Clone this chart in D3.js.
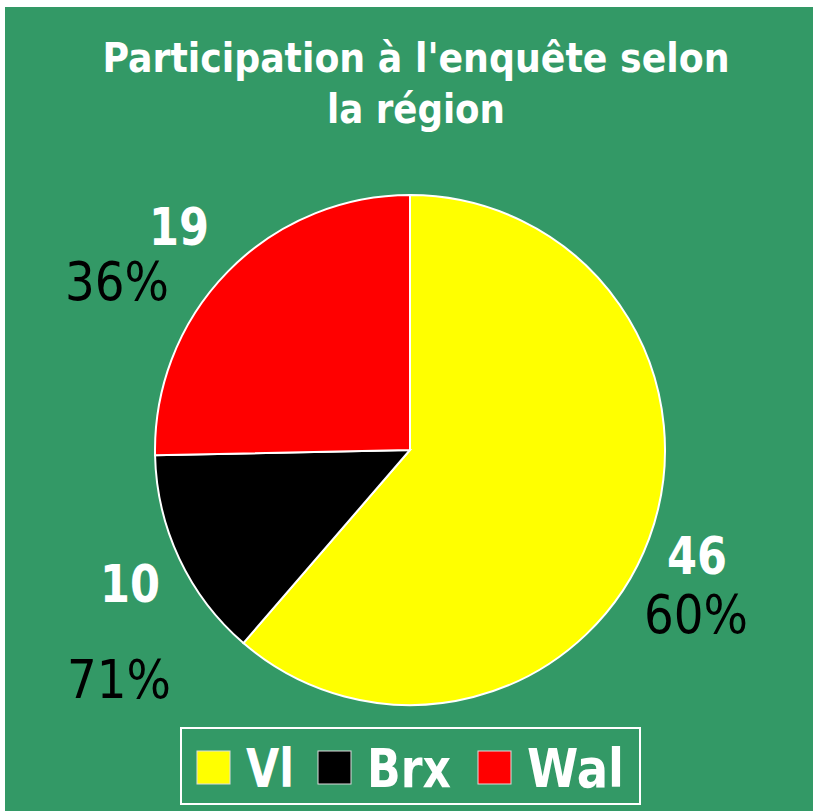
<!DOCTYPE html>
<html>
<head>
<meta charset="utf-8">
<script src="https://cdn.jsdelivr.net/npm/d3@7"></script>
<style>
body { margin: 0; background: #fff; }
</style>
</head>
<body>
<div id="chart"></div>
<script>
// Data
var regions = ["Vl", "Brx", "Wal"];
var counts = [46, 10, 19];
var rates = ["60%", "71%", "36%"];
var colors = ["#ffff00", "#000000", "#ff0000"];

var width = 813, height = 811;
var cx = 410, cy = 450, radius = 255;

// label anchors (layout only): [x of count, baseline of count, x of rate, baseline of rate]
var labelPos = [[697, 574, 696, 633], [130, 602, 119, 698], [179, 245, 117, 300]];

var svg = d3.select("#chart").append("svg")
	.attr("width", width)
	.attr("height", height);

svg.append("rect")
	.attr("x", 5).attr("y", 7)
	.attr("width", width - 5).attr("height", height - 7)
	.attr("fill", "#339966");

// Title
var titleLines = [["Participation à l'enquête selon", 72, 627], ["la région", 123, 178]];
svg.selectAll(".title")
	.data(titleLines)
	.enter()
	.append("text")
	.attr("class", "title")
	.attr("x", 416)
	.attr("y", function(d) { return d[1]; })
	.attr("text-anchor", "middle")
	.attr("font-family", "DejaVu Sans Condensed, DejaVu Sans")
	.attr("font-weight", "bold")
	.attr("font-size", 41)
	.attr("fill", "#fff")
	.attr("textLength", function(d) { return d[2]; })
	.attr("lengthAdjust", "spacingAndGlyphs")
	.text(function(d) { return d[0]; });

// Pie
var pie = d3.pie().sort(null).value(function(d) { return d; });
var arc = d3.arc().innerRadius(0).outerRadius(radius);
var g = svg.append("g").attr("transform", "translate(" + cx + "," + cy + ")");

g.selectAll("path")
	.data(pie(counts))
	.enter()
	.append("path")
	.attr("d", arc)
	.attr("fill", function(d, i) { return colors[i]; })
	.attr("stroke", "#fff")
	.attr("stroke-width", 2);

// Labels
svg.selectAll(".count")
	.data(counts)
	.enter()
	.append("text")
	.attr("class", "count")
	.attr("x", function(d, i) { return labelPos[i][0]; })
	.attr("y", function(d, i) { return labelPos[i][1]; })
	.attr("text-anchor", "middle")
	.attr("font-family", "DejaVu Sans")
	.attr("font-weight", "bold")
	.attr("font-size", 52)
	.attr("fill", "#fff")
	.attr("textLength", 60)
	.attr("lengthAdjust", "spacingAndGlyphs")
	.text(function(d) { return d; });

svg.selectAll(".rate")
	.data(rates)
	.enter()
	.append("text")
	.attr("class", "rate")
	.attr("x", function(d, i) { return labelPos[i][2]; })
	.attr("y", function(d, i) { return labelPos[i][3]; })
	.attr("text-anchor", "middle")
	.attr("font-family", "DejaVu Sans")
	.attr("font-size", 53)
	.attr("fill", "#000")
	.attr("textLength", 104)
	.attr("lengthAdjust", "spacingAndGlyphs")
	.text(function(d) { return d; });

// Legend
svg.append("rect")
	.attr("x", 181).attr("y", 728)
	.attr("width", 459).attr("height", 76)
	.attr("fill", "none")
	.attr("stroke", "#fff")
	.attr("stroke-width", 2);

var legendX = [197, 318, 478];
var legendW = [48, 84, 97];
var leg = svg.selectAll(".leg")
	.data(regions)
	.enter()
	.append("g")
	.attr("class", "leg")
	.attr("transform", function(d, i) { return "translate(" + legendX[i] + ",751)"; });

leg.append("rect")
	.attr("width", 33).attr("height", 33)
	.attr("fill", function(d, i) { return colors[i]; })
	.attr("stroke", "#ddd")
	.attr("stroke-width", 1);

leg.append("text")
	.attr("x", 49)
	.attr("y", 36)
	.attr("font-family", "DejaVu Sans")
	.attr("font-weight", "bold")
	.attr("font-size", 53)
	.attr("fill", "#fff")
	.attr("textLength", function(d, i) { return legendW[i]; })
	.attr("lengthAdjust", "spacingAndGlyphs")
	.text(function(d) { return d; });
</script>
</body>
</html>
